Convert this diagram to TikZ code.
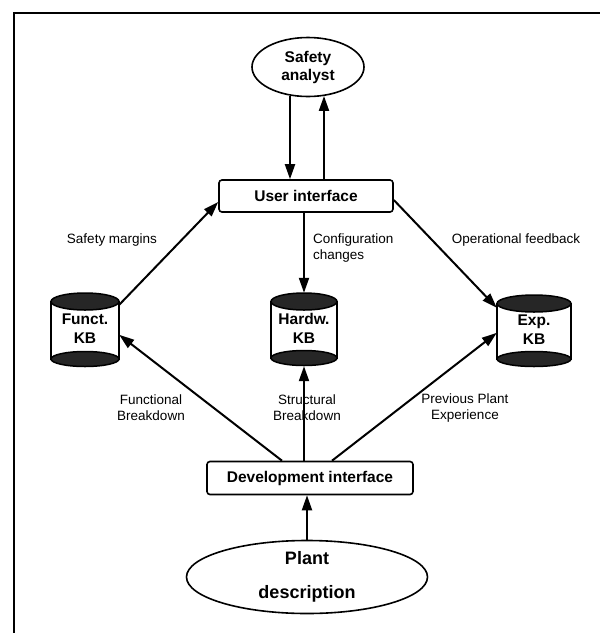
\documentclass[tikz,border=0pt]{standalone}
\usepackage{fontspec}
\setmainfont{Liberation Sans}
\usetikzlibrary{arrows.meta,shapes.geometric}

% knowledge-base drum: name, centre x, top y, bottom y, half width, label
\newcommand\kbdrum[6]{%
  \fill[white,draw=black,line width=1.5pt] (#2-#5,#3+8.5) rectangle (#2+#5,#4-8);
  \filldraw[fill=black!85,line width=1.5pt] (#2,#3+8.5) ellipse [x radius=#5,y radius=8.5];
  \filldraw[fill=black!85,line width=1.5pt] (#2,#4-8) ellipse [x radius=#5,y radius=7.5];
  \node[minimum width=2*#5,minimum height=#4-#3,inner sep=0] (#1) at (#2,{(#3+#4)/2}) {};
  \node[kbtext] at ([yshift=1pt]#1.center) {#6};
}

\begin{document}
\begin{tikzpicture}[x=1pt,y=-1pt,
  conn/.style={line width=2pt,-{Triangle[length=15pt,width=10pt]}},
  iface/.style={draw,line width=1.6pt,rounded corners=3pt,inner sep=0,
    font=\bfseries\fontsize{15.5}{18}\selectfont},
  oval/.style={ellipse,draw,line width=1.6pt,inner sep=0,align=center},
  lbl/.style={font=\fontsize{13.5}{16}\selectfont,align=center,inner sep=0},
  kbtext/.style={font=\bfseries\fontsize{15.5}{19}\selectfont,align=center,inner sep=0}
]
\useasboundingbox (0,0) rectangle (600,633);
\fill[white] (0,0) rectangle (600,633);

% frame
\draw[line width=1.8pt] (14,640) -- (14,13) -- (610,13);

% people and interfaces
\node[oval,minimum width=112,minimum height=59,
  font=\bfseries\fontsize{15.5}{18}\selectfont] (sa) at (308,67) {Safety\\analyst};
\node[iface,minimum width=174,minimum height=32] (ui) at (306,196) {User interface};
\node[iface,minimum width=206,minimum height=33] (dev) at (310,478) {Development interface};
\node[oval,minimum width=241,minimum height=73,
  font=\bfseries\fontsize{18}{34}\selectfont] (plant) at (307,577) {Plant\\description};

% knowledge bases
\kbdrum{fkb}{85}{293}{367}{34}{Funct.\\KB}
\kbdrum{hkb}{304}{293}{366}{33}{Hardw.\\KB}
\kbdrum{ekb}{534}{295}{367}{37}{Exp.\\KB}

% analyst <-> user interface
\draw[conn] ([xshift=-18pt]sa.south |- sa.237) -- ([xshift=-18pt]sa.south |- ui.north);
\draw[conn] ([xshift=16pt]sa.south |- ui.north) -- ([xshift=16pt]sa.south |- sa.300);

% user interface links
\draw[conn] ([yshift=-12pt]fkb.north east) -- ([yshift=-6pt]ui.west);
\draw[conn] (hkb.north |- ui.south) -- (hkb.north);
\draw[conn] ([yshift=-4pt]ui.east) -- ([yshift=-13pt]ekb.north west);

% development interface links
\draw[conn] ([xshift=-28pt]dev.north) -- ([yshift=-42pt]fkb.north east);
\draw[conn] (hkb.south |- dev.north) -- (hkb.south);
\draw[conn] ([xshift=22pt]dev.north) -- ([yshift=-38pt]ekb.north west);
\draw[conn] (plant.north) -- (plant.north |- dev.south);

% labels
\node[lbl] (l1) at (112,240) {Safety margins};
\node[lbl,align=left,anchor=west] (l2) at (313,248) {Configuration\\changes};
\node[lbl] (l3) at (516,240) {Operational feedback};
\node[lbl] (l4) at (151,408) {Functional\\Breakdown};
\node[lbl] (l5) at (307,408) {Structural\\Breakdown};
\node[lbl] (l6) at (465,408) {Previous Plant\\Experience};
\end{tikzpicture}
\end{document}
